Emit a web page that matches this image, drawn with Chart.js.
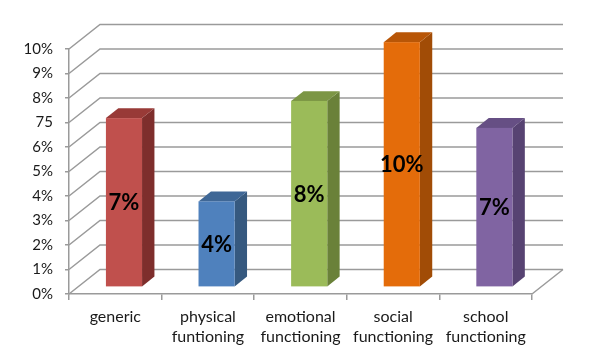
<!DOCTYPE html>
<html>
<head>
<meta charset="utf-8">
<script src="https://cdn.jsdelivr.net/npm/chart.js@4/dist/chart.umd.min.js"></script>
<style>
  html, body { margin: 0; padding: 0; background: #fff; }
  #wrap { width: 595px; height: 362px; }
</style>
</head>
<body>
<div id="wrap"><canvas id="c" width="595" height="362"></canvas></div>
<script>
// ---- data ----
const categories = [["generic"], ["physical", "funtioning"], ["emotional", "functioning"], ["social", "functioning"], ["school", "functioning"]];
const values = [6.9, 3.5, 7.6, 10.0, 6.5];
const valueLabels = ["7%", "4%", "8%", "10%", "7%"];
const yTickLabels = ["0%", "1%", "2%", "3%", "4%", "5%", "6%", "75", "8%", "9%", "10%"];
const frontColors = ["#C0504D", "#4F81BD", "#9BBB59", "#E46C0A", "#8064A2"];
const sideColors  = ["#7E2E2C", "#36597F", "#6A8139", "#A14C06", "#574372"];
const topColors   = ["#983A37", "#3F6796", "#7C9645", "#B85607", "#664F84"];

// ---- 3D look ----
const DEPTH_X = 31, DEPTH_Y = -24.5;
const F1 = 0.28, F2 = 0.68;
const GRID = "#9a9a9a";

const threeD = {
  id: "threeD",
  beforeDatasetsDraw(chart) {
    const ctx = chart.ctx, a = chart.chartArea, ys = chart.scales.y;
    ctx.save();
    ctx.strokeStyle = GRID;
    ctx.lineWidth = 1.5;
    for (let v = 0; v <= 10; v++) {
      const py = ys.getPixelForValue(v);
      ctx.beginPath();
      ctx.moveTo(a.left, py);
      ctx.lineTo(a.left + DEPTH_X, py + DEPTH_Y);
      ctx.lineTo(a.right + DEPTH_X, py + DEPTH_Y);
      ctx.stroke();
    }
    const p0 = ys.getPixelForValue(0);
    ctx.beginPath();
    ctx.moveTo(a.right, p0);
    ctx.lineTo(a.right + DEPTH_X, p0 + DEPTH_Y);
    ctx.stroke();
    ctx.restore();
  },
  beforeDatasetDraw() { return false; },
  afterDatasetsDraw(chart) {
    const ctx = chart.ctx;
    const meta = chart.getDatasetMeta(0);
    meta.data.forEach((bar, i) => {
      const p = bar.getProps(["x", "y", "base", "width"], true);
      const ox = F1 * DEPTH_X, oy = F1 * DEPTH_Y;
      const dx = (F2 - F1) * DEPTH_X, dy = (F2 - F1) * DEPTH_Y;
      const l = p.x - p.width / 2 + ox, r = p.x + p.width / 2 + ox;
      const t = p.y + oy, b = p.base + oy;
      ctx.save();
      ctx.fillStyle = sideColors[i];
      ctx.beginPath();
      ctx.moveTo(r, t); ctx.lineTo(r + dx, t + dy); ctx.lineTo(r + dx, b + dy); ctx.lineTo(r, b);
      ctx.closePath(); ctx.fill();
      ctx.fillStyle = topColors[i];
      ctx.beginPath();
      ctx.moveTo(l, t); ctx.lineTo(l + dx, t + dy); ctx.lineTo(r + dx, t + dy); ctx.lineTo(r, t);
      ctx.closePath(); ctx.fill();
      ctx.fillStyle = frontColors[i];
      ctx.fillRect(l, t, r - l, b - t);
      ctx.fillStyle = "#000";
      ctx.font = "bold 22px Lato";
      ctx.textAlign = "center";
      ctx.textBaseline = "middle";
      ctx.fillText(valueLabels[i], (l + r) / 2, (t + b) / 2 + 1);
      ctx.restore();
    });
  }
};

new Chart(document.getElementById("c"), {
  type: "bar",
  data: {
    labels: categories,
    datasets: [{ data: values, backgroundColor: frontColors, barPercentage: 0.39, categoryPercentage: 1 }]
  },
  options: {
    responsive: false,
    animation: false,
    layout: { padding: { left: 0, right: 63, top: 49, bottom: 0 } },
    plugins: { legend: { display: false }, tooltip: { enabled: false } },
    scales: {
      y: {
        min: 0, max: 10,
        afterFit(s) { s.width = 69; },
        ticks: { stepSize: 1, padding: 12, color: "#1a1a1a", font: { family: "Lato", size: 15 },
                 callback: (v) => yTickLabels[v] },
        grid: { drawOnChartArea: false, tickLength: 4, color: GRID, lineWidth: 1.5 },
        border: { color: GRID, width: 1.5 }
      },
      x: {
        afterFit(s) { s.height = 68; },
        ticks: { padding: 7, color: "#1a1a1a", font: { family: "Lato", size: 16, lineHeight: 1.25 } },
        grid: { drawOnChartArea: false, offset: true, tickLength: 6, color: GRID, lineWidth: 1.5 },
        border: { color: GRID, width: 1.5 }
      }
    }
  },
  plugins: [threeD]
});
</script>
</body>
</html>
